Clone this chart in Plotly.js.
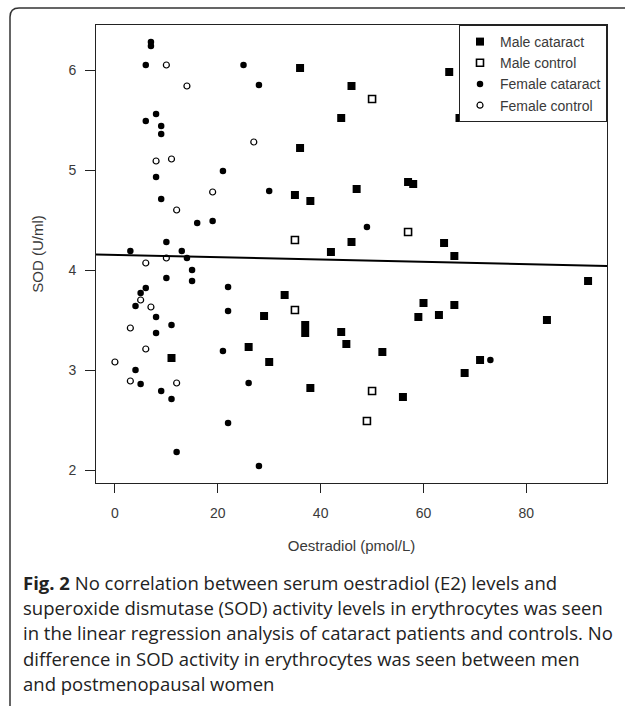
<!DOCTYPE html>
<html>
<head>
<meta charset="utf-8">
<script src="https://cdn.plot.ly/plotly-3.0.1.min.js"></script>
<style>
  html, body { margin: 0; padding: 0; background: #fff; }
  #chart { width: 625px; height: 706px; }
</style>
</head>
<body>
<div id="chart"></div>
<script>
// ---- Data ----
const maleCataractX = [36, 46, 44, 36, 65, 67, 75, 35, 38, 47, 57, 58, 46, 42, 64, 66, 92, 33, 29, 37, 37, 44, 45, 60, 59, 63, 66, 84, 26, 52, 11, 30, 38, 56, 68, 71];
const maleCataractY = [6.02, 5.84, 5.52, 5.22, 5.98, 5.52, 5.52, 4.75, 4.69, 4.81, 4.88, 4.86, 4.28, 4.18, 4.27, 4.14, 3.89, 3.75, 3.54, 3.45, 3.37, 3.38, 3.26, 3.67, 3.53, 3.55, 3.65, 3.50, 3.23, 3.18, 3.12, 3.08, 2.82, 2.73, 2.97, 3.10];

const maleControlX = [50, 35, 57, 35, 50, 49];
const maleControlY = [5.71, 4.30, 4.38, 3.60, 2.79, 2.49];

const femaleCataractX = [7, 7, 6, 25, 28, 8, 6, 9, 9, 8, 21, 9, 16, 19, 10, 3, 13, 14, 15, 10, 15, 6, 5, 4, 8, 11, 8, 22, 22, 21, 30, 49, 4, 5, 9, 11, 12, 22, 26, 28, 73];
const femaleCataractY = [6.28, 6.24, 6.05, 6.05, 5.85, 5.56, 5.49, 5.44, 5.36, 4.93, 4.99, 4.71, 4.47, 4.49, 4.28, 4.19, 4.19, 4.12, 4.00, 3.92, 3.89, 3.82, 3.77, 3.64, 3.53, 3.45, 3.37, 3.83, 3.59, 3.19, 4.79, 4.43, 3.00, 2.86, 2.79, 2.71, 2.18, 2.47, 2.87, 2.04, 3.10];

const femaleControlX = [10, 14, 27, 8, 11, 19, 12, 10, 6, 5, 7, 3, 6, 0, 3, 12];
const femaleControlY = [6.05, 5.84, 5.28, 5.09, 5.11, 4.78, 4.60, 4.12, 4.07, 3.70, 3.63, 3.42, 3.21, 3.08, 2.89, 2.87];

// regression line end points
const fitX = [-3.68, 95.68];
const fitY = [4.155, 4.04];

const legendNames = ["Male cataract", "Male control", "Female cataract", "Female control"];
const xTickVals = [0, 20, 40, 60, 80];
const yTickVals = [2, 3, 4, 5, 6];
const xTitle = "Oestradiol (pmol/L)";
const yTitle = "SOD (U/ml)";
const captionLines = [
  "<b>Fig. 2</b> No correlation between serum oestradiol (E2) levels and",
  "superoxide dismutase (SOD) activity levels in erythrocytes was seen",
  "in the linear regression analysis of cataract patients and controls. No",
  "difference in SOD activity in erythrocytes was seen between men",
  "and postmenopausal women"
];

// ---- Layout helpers (pixel -> paper) ----
const W = 625, H = 706;
const M = { l: 96, r: 18, t: 25, b: 223 };
const PW = W - M.l - M.r, PH = H - M.t - M.b;
const px = x => (x - M.l) / PW;
const py = y => (H - M.b - y) / PH;

const sansR = "Liberation Sans, Arial, Helvetica, sans-serif";
const ink = "#000";
const txt = "#3a3a3a";

const traces = [
  { x: maleCataractX, y: maleCataractY, name: legendNames[0], type: "scatter", mode: "markers",
    marker: { symbol: "square", size: 8, color: ink } },
  { x: maleControlX, y: maleControlY, name: legendNames[1], type: "scatter", mode: "markers",
    marker: { symbol: "square-open", size: 7, color: ink, line: { width: 1.6, color: ink } } },
  { x: femaleCataractX, y: femaleCataractY, name: legendNames[2], type: "scatter", mode: "markers",
    marker: { symbol: "circle", size: 6.5, color: ink } },
  { x: femaleControlX, y: femaleControlY, name: legendNames[3], type: "scatter", mode: "markers",
    marker: { symbol: "circle-open", size: 6, color: ink, line: { width: 1.2, color: ink } } },
  { x: fitX, y: fitY, type: "scatter", mode: "lines", showlegend: false, hoverinfo: "skip",
    line: { color: ink, width: 2 } }
];

const annotations = captionLines.map((t, i) => ({
  xref: "paper", yref: "paper", x: px(21), y: py(582 + i * 25.4),
  xanchor: "left", yanchor: "middle", showarrow: false, align: "left",
  text: t, font: { family: "Open Sans, Noto Sans, sans-serif", size: 18.5, color: "#222" }
}));

// figure frame (left + top border with rounded corner)
const r = 9;
const framePath = `M ${px(10)},${py(H + 5)} L ${px(10)},${py(8 + r)} Q ${px(10)},${py(8)} ${px(10 + r)},${py(8)} L ${px(W + 5)},${py(8)}`;

const layout = {
  width: W, height: H,
  margin: M,
  paper_bgcolor: "#fff", plot_bgcolor: "#fff",
  showlegend: true,
  font: { family: sansR, color: txt, size: 14 },
  xaxis: {
    range: [-3.68, 95.68], tickvals: xTickVals, ticks: "outside", ticklen: 9, tickwidth: 1,
    tickcolor: "#222", ticklabelstandoff: 8, showgrid: false, zeroline: false,
    showline: true, linecolor: "#222", linewidth: 1, mirror: true,
    tickfont: { family: sansR, size: 14, color: txt },
    title: { text: xTitle, font: { family: sansR, size: 15, color: txt }, standoff: 20 }
  },
  yaxis: {
    range: [1.87, 6.45], tickvals: yTickVals, ticks: "outside", ticklen: 10, tickwidth: 1,
    tickcolor: "#222", ticklabelstandoff: 6, showgrid: false, zeroline: false,
    showline: true, linecolor: "#222", linewidth: 1, mirror: true,
    tickfont: { family: sansR, size: 14, color: txt },
    title: { text: yTitle, font: { family: sansR, size: 15, color: txt }, standoff: 21 }
  },
  legend: {
    x: 1, xanchor: "right", y: 1, yanchor: "top",
    bgcolor: "#fff", bordercolor: "#222", borderwidth: 1,
    font: { family: sansR, size: 14, color: txt },
    itemwidth: 30, tracegroupgap: 0, traceorder: "normal"
  },
  annotations: annotations,
  shapes: [
    { type: "path", xref: "paper", yref: "paper", path: framePath,
      line: { color: "#333", width: 1.5 }, layer: "below" }
  ]
};

Plotly.newPlot("chart", traces, layout, { displayModeBar: false, staticPlot: true });
</script>
</body>
</html>
